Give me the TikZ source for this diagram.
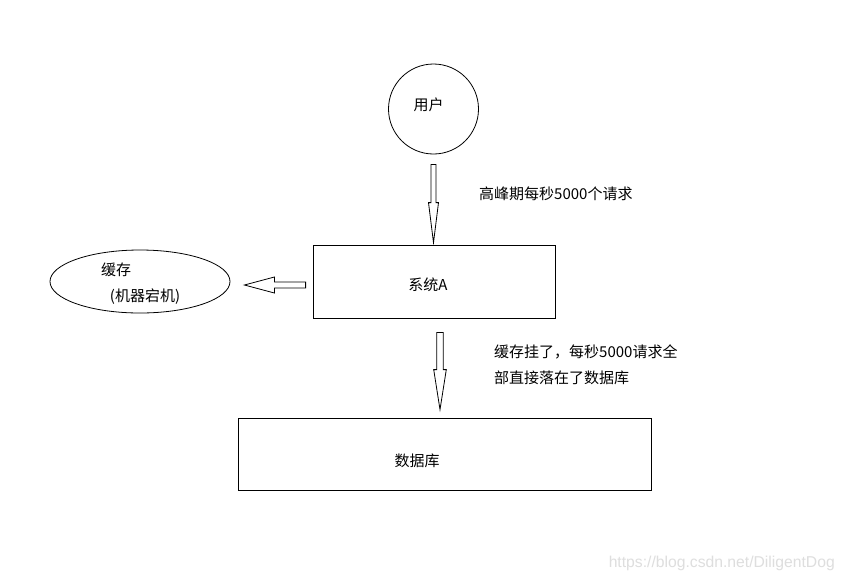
\documentclass[tikz,border=0pt]{standalone}
\usepackage{fontspec}
\setmainfont{Noto Sans CJK SC}
\newfontfamily\urlfont{Liberation Sans}
\usetikzlibrary{calc,shapes.geometric}

\tikzset{
  shape line/.style={draw, line width=0.8pt, inner sep=0pt},
  hollow/.style={draw, fill=white, line width=0.8pt, line join=miter},
  note/.style={anchor=west, align=left, inner sep=0pt},
}

% hollow block arrow: from, to, head length, head half width, shaft half width
\newcommand{\hollowarrow}[5]{
  \coordinate (hb) at ($(#2)!#3!(#1)$);
  \draw[hollow] ($(#1)!#5!90:(#2)$) -- ($(hb)!#5!90:(#2)$) -- ($(hb)!#4!90:(#2)$)
    -- (#2) -- ($(hb)!#4!-90:(#2)$) -- ($(hb)!#5!-90:(#2)$) -- ($(#1)!#5!-90:(#2)$) -- cycle;
}

\begin{document}
\begin{tikzpicture}[x=1pt, y=-1pt, every node/.style={font=\fontsize{15}{26}\selectfont}]
    \fill[white] (0,0) rectangle (843,579);
    \useasboundingbox (0,0) rectangle (843,579);

    % Shapes
    \node[shape line, circle, minimum size=90pt,
          label={[xshift=-5pt, yshift=4pt]center:用户}] (user) at (433.5,109) {};
    \node[shape line, rectangle, minimum width=242pt, minimum height=73pt,
          label={[xshift=-6pt, yshift=-3.5pt]center:系统A}] (sysA) at (434,281.5) {};
    \node[shape line, ellipse, minimum width=180pt, minimum height=63pt,
          label={[xshift=-24pt, yshift=11.5pt]center:缓存},
          label={[xshift=5pt, yshift=-15.5pt]center:(机器宕机)}] (cache) at (140,281.5) {};
    \node[shape line, rectangle, minimum width=413pt, minimum height=72pt,
          label={[xshift=-27.5pt, yshift=-7pt]center:数据库}] (db) at (444.5,454) {};

    % Arrow ends
    \coordinate (a1s) at ($(user.south)+(0,10)$);
    \coordinate (a1e) at ($(a1s |- sysA.north)+(0,-2)$);
    \coordinate (a2s) at ($(sysA.south)+(6,14)$);
    \coordinate (a2e) at ($(a2s |- db.north)+(0,-8)$);
    \coordinate (a3s) at ($(sysA.west)+(-7,3.5)$);
    \coordinate (a3e) at ($(cache.east)+(14,3.5)$);

    % Arrows
    \hollowarrow{a1s}{a1e}{40pt}{5pt}{2.5pt}
    \hollowarrow{a2s}{a2e}{40pt}{6.3pt}{3.2pt}
    \hollowarrow{a3s}{a3e}{30pt}{8pt}{3pt}

    % Notes
    \node[note] (peakNote) at (479,194) {高峰期每秒5000个请求};
    \node[note] (downNote) at (494,365) {缓存挂了，每秒5000请求全\\部直接落在了数据库};

    % Watermark
    \node[anchor=east, inner sep=0pt, text=black!13,
          font=\urlfont\fontsize{15.7}{17}\selectfont] (mark) at (835,563) {https://blog.csdn.net/DiligentDog};
\end{tikzpicture}
\end{document}
